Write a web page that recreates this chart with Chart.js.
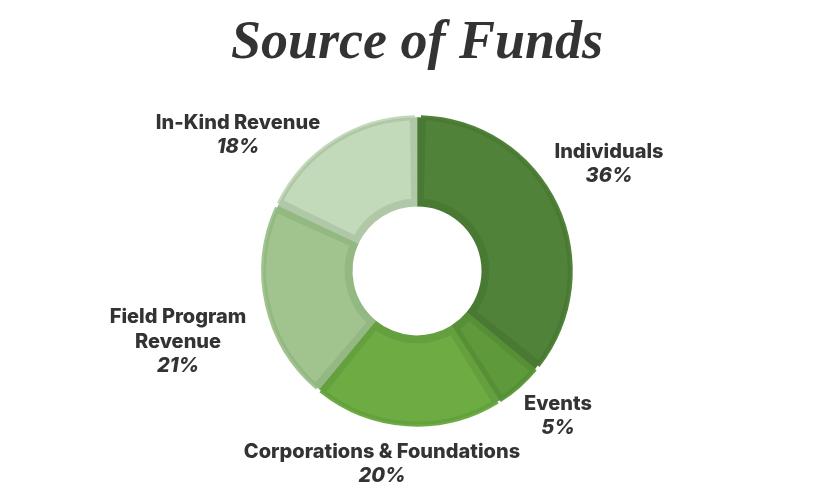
<!DOCTYPE html>
<html>
<head>
<meta charset="utf-8">
<script src="https://cdn.jsdelivr.net/npm/chart.js@4/dist/chart.umd.min.js"></script>
<style>
  html, body { margin: 0; padding: 0; background: #fff; }
  #wrap { width: 834px; height: 500px; position: relative; }
</style>
</head>
<body>
<div id="wrap"><canvas id="funds"></canvas></div>
<script>
// data
const categories = ['Individuals', 'Events', 'Corporations & Foundations', 'Field Program Revenue', 'In-Kind Revenue'];
const shares = [36, 5, 20, 21, 18];
const labelLines = [['Individuals'], ['Events'], ['Corporations & Foundations'], ['Field Program', 'Revenue'], ['In-Kind Revenue']];

// look
const fillColors = ['#51823a', '#5e9a3c', '#6dab43', '#a1c48f', '#c2d9ba'];
const edgeColors = ['#4a7933', '#568f36', '#64a03d', '#93b882', '#b0c8a7'];
// label block centre, relative to the doughnut centre
const labelOffsets = [[192, -107], [141, 145], [-35, 193], [-239, 71], [-179, -136]];

const textColor = '#333333';

const sliceLabels = {
    id: 'sliceLabels',
    afterDraw(chart) {
        const ctx = chart.ctx;
        const arc = chart.getDatasetMeta(0).data[0];
        const cx = arc.x, cy = arc.y;
        const lineH = 24.5;
        ctx.save();
        ctx.fillStyle = textColor;
        ctx.textAlign = 'center';
        ctx.textBaseline = 'middle';
        labelLines.forEach((lines, i) => {
            const all = lines.concat([shares[i] + '%']);
            const bx = cx + labelOffsets[i][0];
            const top = cy + labelOffsets[i][1] - (all.length - 1) * lineH / 2;
            all.forEach((txt, j) => {
                const isPct = j === all.length - 1;
                ctx.font = (isPct ? 'italic ' : '') + '800 20px Inter, "Noto Sans", sans-serif';
                ctx.fillText(txt, bx, top + j * lineH);
            });
        });
        ctx.restore();
    }
};

new Chart(document.getElementById('funds'), {
    type: 'doughnut',
    data: {
        labels: categories,
        datasets: [{
            data: shares,
            backgroundColor: fillColors,
            borderColor: edgeColors,
            borderWidth: 5,
            borderAlign: 'inner',
            spacing: 5
        }]
    },
    options: {
        responsive: true,
        maintainAspectRatio: false,
        animation: false,
        cutout: '42%',
        layout: { padding: { top: 0, bottom: 73 } },
        plugins: {
            legend: { display: false },
            tooltip: { enabled: false },
            title: {
                display: true,
                text: 'Source of Funds',
                color: textColor,
                font: { family: '"Liberation Serif", serif', size: 54, style: 'italic', weight: 'bold', lineHeight: 1.2 },
                padding: { top: 12, bottom: 38 }
            }
        }
    },
    plugins: [sliceLabels]
});
</script>
</body>
</html>
